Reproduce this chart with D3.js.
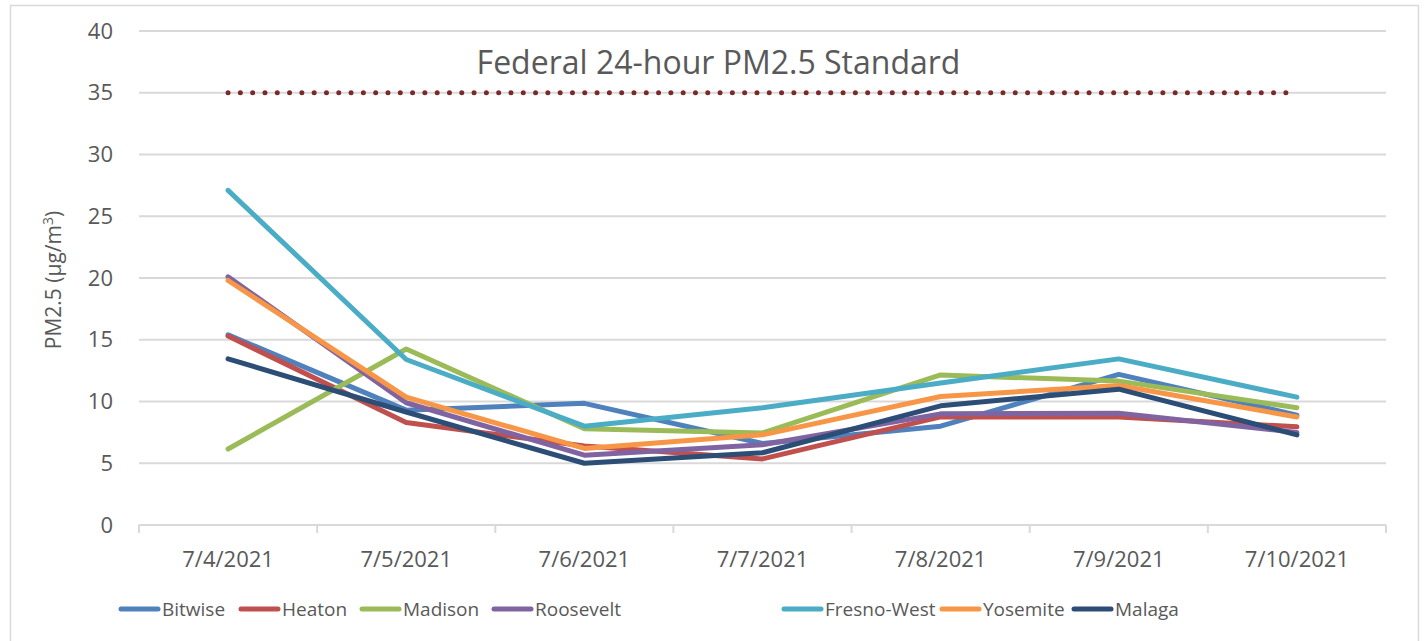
<!DOCTYPE html>
<html>
<head>
<meta charset="utf-8">
<script src="https://cdn.jsdelivr.net/npm/d3@7"></script>
<style>
  html, body { margin: 0; padding: 0; background: #fff; }
  svg { display: block; font-family: "Open Sans", "Noto Sans", sans-serif; }
</style>
</head>
<body>
<svg id="chart"></svg>
<script>
// PM2.5 daily averages, 7/4/2021 – 7/10/2021, by monitoring site.
const W = 1428, H = 641;
const M = { top: 31, right: 42, bottom: 116, left: 139 };

const DATES = ["7/4/2021", "7/5/2021", "7/6/2021", "7/7/2021", "7/8/2021", "7/9/2021", "7/10/2021"];
const Y_TICKS = [0, 5, 10, 15, 20, 25, 30, 35, 40];
const STANDARD = 35;

const BITWISE    = [15.4, 9.3, 9.85, 6.6, 8.0, 12.2, 8.9];
const HEATON     = [15.3, 8.3, 6.4, 5.35, 8.75, 8.75, 7.95];
const MADISON    = [6.15, 14.25, 7.8, 7.45, 12.15, 11.65, 9.5];
const ROOSEVELT  = [20.1, 9.9, 5.65, 6.5, 9.0, 9.05, 7.5];
const FRESNO_W   = [27.1, 13.4, 8.0, 9.5, 11.5, 13.45, 10.35];
const YOSEMITE   = [19.8, 10.35, 6.2, 7.3, 10.4, 11.3, 8.75];
const MALAGA     = [13.45, 9.15, 5.0, 5.85, 9.65, 11.0, 7.3];

const series = [
  { name: "Bitwise",     values: BITWISE,   color: "#4f81bd" },
  { name: "Heaton",      values: HEATON,    color: "#c0504d" },
  { name: "Madison",     values: MADISON,   color: "#9bbb59" },
  { name: "Roosevelt",   values: ROOSEVELT, color: "#8064a2" },
  { name: "Fresno-West", values: FRESNO_W,  color: "#4bacc6" },
  { name: "Yosemite",    values: YOSEMITE,  color: "#f79646" },
  { name: "Malaga",      values: MALAGA,    color: "#2c4d75" }
];

const TEXT = "#595959";
const GRID = "#d9d9d9";

const svg = d3.select("#chart").attr("width", W).attr("height", H);

// outer chart frame (bottom edge runs off the picture)
svg.append("rect")
  .attr("x", 10.5).attr("y", 5.5)
  .attr("width", 1408).attr("height", 700)
  .attr("fill", "none").attr("stroke", GRID).attr("stroke-width", 1.5);

const innerW = W - M.left - M.right;
const innerH = H - M.top - M.bottom;
const g = svg.append("g").attr("transform", `translate(${M.left},${M.top})`);

const x = d3.scaleBand().domain(DATES).range([0, innerW]);
const y = d3.scaleLinear().domain([0, 40]).range([innerH, 0]);
const cx = d => x(d) + x.bandwidth() / 2;

// gridlines
g.append("g")
  .selectAll("line")
  .data(Y_TICKS.filter(t => t > 0))
  .join("line")
  .attr("x1", 0).attr("x2", innerW)
  .attr("y1", d => y(d)).attr("y2", d => y(d))
  .attr("stroke", GRID).attr("stroke-width", 2);

// y axis labels
const yAxis = g.append("g")
  .call(d3.axisLeft(y).tickValues(Y_TICKS).tickSize(0).tickPadding(26));
yAxis.select(".domain").remove();
yAxis.selectAll("text")
  .attr("fill", TEXT).attr("font-size", 22)
  .attr("font-family", "'Open Sans', sans-serif");

// x axis with boundary ticks
const xAxis = g.append("g").attr("transform", `translate(0,${innerH})`);
xAxis.append("line")
  .attr("x1", 0).attr("x2", innerW)
  .attr("stroke", GRID).attr("stroke-width", 2);
xAxis.selectAll("line.tick")
  .data(d3.range(DATES.length + 1))
  .join("line")
  .attr("class", "tick")
  .attr("x1", i => i * x.bandwidth()).attr("x2", i => i * x.bandwidth())
  .attr("y1", 0).attr("y2", 8)
  .attr("stroke", GRID).attr("stroke-width", 2);
xAxis.selectAll("text")
  .data(DATES)
  .join("text")
  .attr("x", d => cx(d))
  .attr("y", 34)
  .attr("dy", "0.35em")
  .attr("text-anchor", "middle")
  .attr("fill", TEXT).attr("font-size", 22)
  .text(d => d);

// y axis title
const yt = svg.append("text")
  .attr("transform", `translate(61,${M.top + y(20) + 2}) rotate(-90)`)
  .attr("text-anchor", "middle")
  .attr("fill", TEXT).attr("font-size", 21);
yt.append("tspan").text("PM2.5 (µg/m");
yt.append("tspan").attr("font-size", 14).attr("dy", "-0.6em").text("3");
yt.append("tspan").attr("dy", "0.4em").text(")");

// federal standard dotted line
g.append("line")
  .attr("x1", cx(DATES[0])).attr("x2", cx(DATES[DATES.length - 1]))
  .attr("y1", y(STANDARD)).attr("y2", y(STANDARD))
  .attr("stroke", "#7b2a2a").attr("stroke-width", 5)
  .attr("stroke-linecap", "round")
  .attr("stroke-dasharray", "0 12.3");

g.append("text")
  .attr("x", innerW / 2 - 44)
  .attr("y", y(37.4))
  .attr("text-anchor", "middle")
  .attr("dy", "0.35em")
  .attr("fill", TEXT).attr("font-size", 32)
  .text("Federal 24-hour PM2.5 Standard");

// series lines
const line = d3.line()
  .x((d, i) => cx(DATES[i]))
  .y(d => y(d));

series.forEach(s => {
  g.append("path")
    .datum(s.values)
    .attr("fill", "none")
    .attr("stroke", s.color)
    .attr("stroke-width", 5)
    .attr("stroke-linejoin", "round")
    .attr("stroke-linecap", "round")
    .attr("d", line);
});

// legend
const LEGEND_X = [119, 239, 360, 492, 782, 940, 1072];
const legend = svg.append("g").attr("transform", "translate(0,609)");
series.forEach((s, i) => {
  const lg = legend.append("g").attr("transform", `translate(${LEGEND_X[i]},0)`);
  lg.append("line")
    .attr("x1", 2).attr("x2", 39)
    .attr("stroke", s.color).attr("stroke-width", 5)
    .attr("stroke-linecap", "round");
  lg.append("text")
    .attr("x", 43).attr("dy", "0.35em")
    .attr("fill", TEXT).attr("font-size", 19)
    .text(s.name);
});
</script>
</body>
</html>
